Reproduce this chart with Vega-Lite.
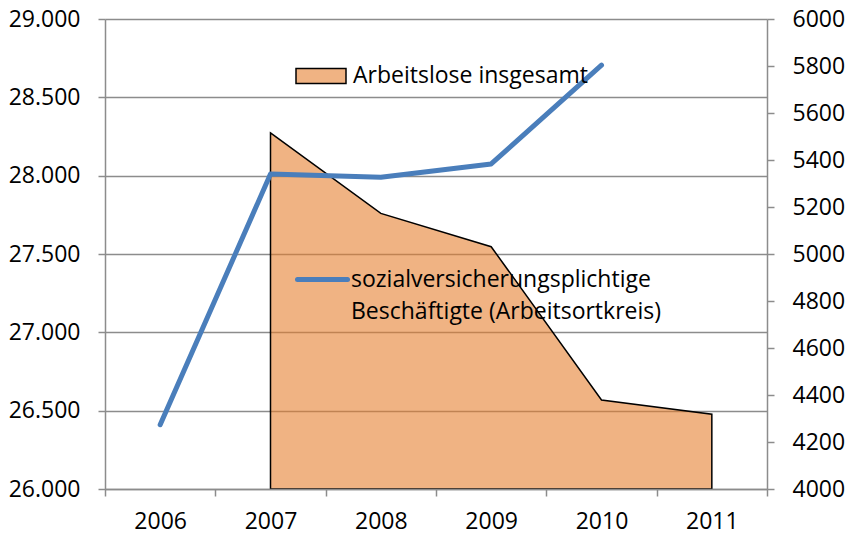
{
  "$schema": "https://vega.github.io/schema/vega-lite/v6.json",
  "width": 662,
  "height": 470,
  "autosize": {"type": "none"},
  "padding": {"left": 105, "top": 19, "right": 81, "bottom": 51},
  "background": "white",
  "config": {
    "font": "Open Sans",
    "view": {"stroke": null},
    "axis": {
      "labelFont": "Open Sans",
      "labelFontSize": 23,
      "labelColor": "black",
      "domainColor": "#8C8C8C",
      "domainWidth": 1.5,
      "tickColor": "#8C8C8C",
      "tickWidth": 1.5,
      "tickSize": 7,
      "gridColor": "#8C8C8C",
      "gridWidth": 1.5,
      "title": null
    },
    "legend": {
      "labelFont": "Open Sans",
      "labelFontSize": 23,
      "labelColor": "black",
      "labelLimit": 600,
      "padding": 0,
      "labelOffset": 6,
      "title": null
    }
  },
  "data": {
    "values": [
      {"Jahr": "2006", "Beschaeftigte": 26410, "Arbeitslose": null},
      {"Jahr": "2007", "Beschaeftigte": 28010, "Arbeitslose": 5515},
      {"Jahr": "2008", "Beschaeftigte": 27990, "Arbeitslose": 5173},
      {"Jahr": "2009", "Beschaeftigte": 28075, "Arbeitslose": 5031},
      {"Jahr": "2010", "Beschaeftigte": 28705, "Arbeitslose": 4379},
      {"Jahr": "2011", "Beschaeftigte": null, "Arbeitslose": 4318}
    ]
  },
  "layer": [
    {
      "transform": [{"filter": "datum.Arbeitslose != null"}],
      "mark": {"type": "area", "fillOpacity": 0.58, "stroke": "black", "strokeWidth": 1.5, "strokeJoin": "miter"},
      "encoding": {
        "x": {
          "field": "Jahr", "type": "ordinal", "bandPosition": 0.5,
          "scale": {"type": "band", "domain": ["2006", "2007", "2008", "2009", "2010", "2011"], "paddingInner": 0, "paddingOuter": 0},
          "axis": {"labelAngle": 0, "tickBand": "extent", "labelPadding": 14, "grid": false, "zindex": 1}
        },
        "y": {
          "field": "Arbeitslose", "type": "quantitative",
          "scale": {"domain": [4000, 6000], "zero": false, "nice": false},
          "axis": {"orient": "right", "values": [4000, 4200, 4400, 4600, 4800, 5000, 5200, 5400, 5600, 5800, 6000], "grid": false, "labelPadding": 18, "format": "d", "zindex": 1}
        },
        "y2": {"datum": 4000},
        "fill": {
          "datum": "Arbeitslose insgesamt", "type": "nominal",
          "scale": {"range": ["#E57C29"]},
          "legend": {
            "orient": "none", "legendX": 190, "legendY": 31,
            "symbolType": "M-1,-0.3H1V0.3H-1Z", "symbolSize": 2500,
            "symbolStrokeColor": "black", "symbolStrokeWidth": 1.5,
            "encode": {"symbols": {"update": {"fillOpacity": {"value": 0.58}, "stroke": {"value": "black"}, "strokeWidth": {"value": 1.5}}}}
          }
        }
      }
    },
    {
      "transform": [{"filter": "datum.Beschaeftigte != null"}],
      "mark": {"type": "line", "strokeWidth": 5, "strokeCap": "round", "strokeJoin": "round"},
      "encoding": {
        "x": {"field": "Jahr", "type": "ordinal", "bandPosition": 0.5},
        "y": {
          "field": "Beschaeftigte", "type": "quantitative",
          "scale": {"domain": [26000, 29000], "zero": false, "nice": false},
          "axis": {"orient": "left", "values": [26000, 26500, 27000, 27500, 28000, 28500, 29000], "grid": true, "labelPadding": 18,
                   "labelExpr": "replace(format(datum.value, ','), ',', '.')"}
        },
        "stroke": {
          "datum": "sozialversicherungsplichtige|Beschäftigte (Arbeitsortkreis)", "type": "nominal",
          "scale": {"range": ["#4A7EBB"]},
          "legend": {
            "orient": "none", "legendX": 190, "legendY": 233,
            "symbolType": "stroke", "symbolSize": 2500, "symbolStrokeWidth": 5,
            "labelOffset": 1,
            "labelExpr": "split(datum.label, '|')",
            "encode": {
              "labels": {"update": {"lineHeight": {"value": 32}}},
              "symbols": {"update": {"strokeCap": {"value": "round"}}}
            }
          }
        }
      }
    }
  ],
  "resolve": {"scale": {"y": "independent"}}
}
